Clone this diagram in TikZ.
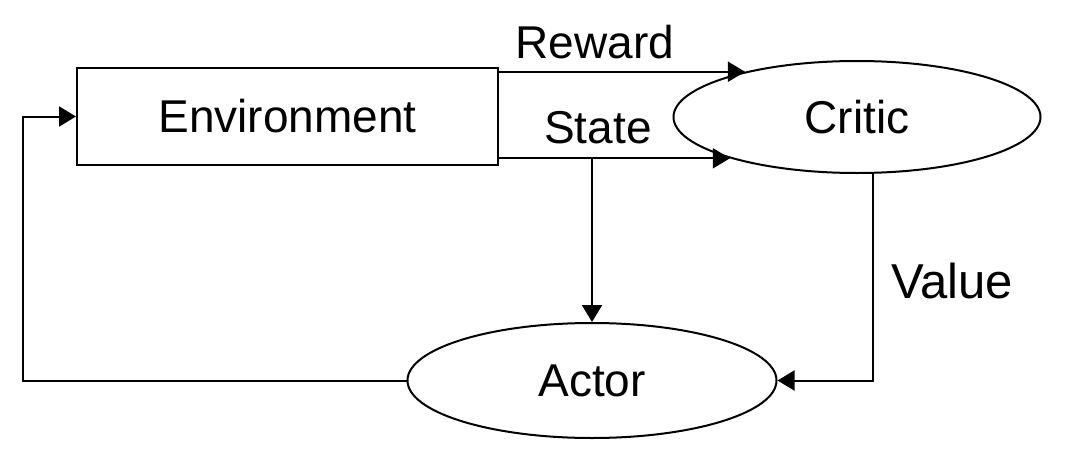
\documentclass[tikz,border=0pt]{standalone}
\usepackage{fontspec}
\setmainfont{Liberation Sans}
\usetikzlibrary{shapes.geometric,arrows.meta}
\begin{document}
\begin{tikzpicture}[x=1pt,y=-1pt,
  line/.style={line width=2pt,draw=black},
  arr/.style={line, -{Triangle[length=17pt,width=20pt]}},
  lbl/.style={font=\fontsize{46}{55}\selectfont, inner sep=0pt},
  boxnode/.style={line, rectangle, minimum width=421pt, minimum height=97pt, inner sep=0pt, font=\fontsize{46}{55}\selectfont},
  ellnode/.style={line, ellipse, inner sep=0pt, font=\fontsize{46}{55}\selectfont}]
\useasboundingbox (0,0) rectangle (1065,463);
\node[boxnode] (env) at (287.5,116.5) {Environment};
\node[ellnode, minimum width=367pt, minimum height=112pt] (critic) at (857,117) {Critic};
\node[ellnode, minimum width=369pt, minimum height=115pt] (actor) at (592,380.5) {Actor};
\coordinate (vcorner) at (873,380.5);
\coordinate (fb) at (23,380.5);
% reward and state
\draw[arr] (env.east |- critic.158) -- (critic.158);
\draw[arr] (env.east |- critic.198) -- (critic.198);
\draw[arr] (actor.north |- critic.198) -- (actor.north);
% value
\draw[arr] (critic.south -| vcorner) -- (vcorner) -- (actor.east);
% feedback
\draw[arr] (actor.west) -- (fb) |- (env.west);
% labels
\node[lbl, anchor=base] (lrew) at (595,58) {Reward};
\node[lbl, anchor=base] (lstate) at (598,143) {State};
\node[lbl, anchor=base, font=\fontsize{49}{58}\selectfont] (lval) at (952,298) {Value};
\end{tikzpicture}
\end{document}
